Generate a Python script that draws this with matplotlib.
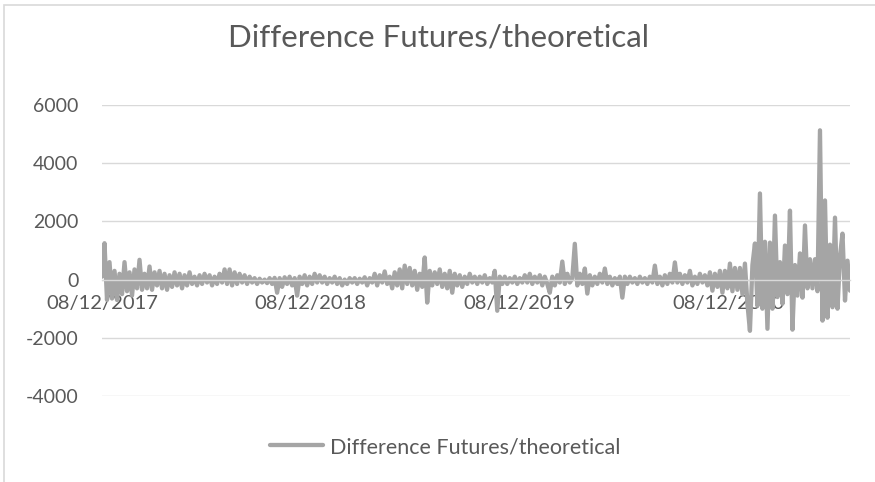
import matplotlib
matplotlib.use("Agg")
import matplotlib.pyplot as plt
import matplotlib.dates as mdates
from matplotlib.patches import Rectangle
import pandas as pd

# ---- data ----
title = "Difference Futures/theoretical"
series_name = "Difference Futures/theoretical"
start_date = "2017-12-08"
end_date = "2021-07-09"
tick_dates = ["2017-12-08", "2018-12-08", "2019-12-08", "2020-12-08"]
y_ticks = [-4000, -2000, 0, 2000, 4000, 6000]

values = [
    100, 1250, -700, 600, -650, 300, -700, 200, -500, 600,
    -400, 250, -550, 350, -300, 680, -350, 200, -300, 450,
    -350, 250, -200, 300, -300, 200, -350, 150, -250, 250,
    -200, 200, -300, 150, -200, 250, -150, 100, -200, 150,
    -150, 200, -100, 150, -200, 100, -150, 200, -100, 350,
    -150, 350, -200, 250, -150, 200, -100, 150, -150, 100,
    -100, 50, -150, 30, -100, 0, -120, 50, -150, 60,
    -450, 50, -250, 80, -150, 100, -200, 50, -550, 100,
    -150, 150, -200, 100, -150, 200, -100, 150, -100, 100,
    -150, 50, -100, 100, -150, 50, -200, 0, -150, 50,
    -100, 50, -150, 30, -100, 80, -200, 50, -100, 200,
    -200, 150, -100, 280, -150, 100, -300, 250, -200, 350,
    -300, 480, -150, 400, -200, 300, -350, 200, -250, 760,
    -790, 300, -200, 250, -150, 350, -250, 200, -300, 300,
    -450, 200, -200, 150, -250, 100, -150, 200, -100, 100,
    -150, 100, -100, 150, -150, 50, -100, 300, -1070, 100,
    -150, 100, -150, 50, -100, 100, -150, 50, -100, 150,
    -100, 200, -150, 100, -100, 150, -200, 100, -150, -450,
    100, -200, 150, -100, 620, -150, 200, -100, 50, 1230,
    -200, 200, -150, 380, -480, 150, -200, 100, -150, 200,
    -100, 380, -150, 100, -200, 50, -150, 100, -620, 100,
    -150, 100, -100, 50, -150, 100, -100, 50, -150, 100,
    -100, 480, -150, 100, -200, 150, -150, 200, -100, 590,
    -100, 200, -150, 150, -100, 300, -200, 100, -150, 200,
    -100, 150, -200, 250, -380, 200, -250, 300, -450, 300,
    -300, 550, -400, 400, -350, 400, -500, 550, -830, -1760,
    500, 1240, -900, 2960, -1000, 1300, -1690, 1270, -1000, 2200,
    -600, 600, -830, 1170, -500, 2370, -1720, 500, -550, 900,
    -620, 1860, -300, 700, -300, 700, -400, 5130, -1410, 2720,
    -1310, 1200, -950, 2130, -1000, 800, 1580, -720, 650, -380,
]

dates = pd.date_range(start_date, end_date, periods=len(values))

# ---- figure ----
W, H = 875, 482
fig = plt.figure(figsize=(W / 100, H / 100), dpi=100)
font = ["Lato", "DejaVu Sans"]
txt = "#595959"
grid = "#d9d9d9"
line_c = "#a5a5a5"

# chart border
fig.patches.append(Rectangle((4 / W, -0.1), 1.2, (H - 5) / H + 0.1,
                             transform=fig.transFigure, fill=False,
                             edgecolor=grid, linewidth=1.2))

left, right, top, bottom = 102, 850, 105, 396
ax = fig.add_axes([left / W, (H - bottom) / H, (right - left) / W, (bottom - top) / H])

ax.plot(dates, values, color=line_c, linewidth=3.1, solid_joinstyle="round",
        solid_capstyle="round", label=series_name, zorder=2)

ax.set_ylim(-4000, 6000)
ax.set_xlim(dates[0], dates[-1])
ax.set_yticks(y_ticks)
ax.set_yticklabels([str(v) for v in y_ticks])
ax.yaxis.grid(True, color=grid, linewidth=1.0)
ax.tick_params(axis="y", length=0, pad=17, labelsize=14, labelcolor=txt,
               labelfontfamily=font)

ax.set_xticks(pd.to_datetime(tick_dates))
ax.xaxis.set_major_formatter(mdates.DateFormatter("%d/%m/%Y"))
ax.tick_params(axis="x", length=0, pad=11, labelsize=14.5, labelcolor=txt,
               labelfontfamily=font)

for s in ["top", "right", "left"]:
    ax.spines[s].set_visible(False)
ax.spines["bottom"].set_position(("data", 0))
ax.spines["bottom"].set_color(grid)
ax.spines["bottom"].set_linewidth(1.0)

fig.text(438 / W, 1 - 38 / H, title, ha="center", va="center",
         fontfamily=font, fontsize=22.5, color=txt)

leg = fig.legend(loc="center", bbox_to_anchor=(445 / W, 1 - 447 / H), frameon=False,
                 prop={"family": font, "size": 15.5}, handlelength=2.5, handletextpad=0.3)
for t in leg.get_texts():
    t.set_color(txt)
for h in leg.get_lines():
    h.set_linewidth(3.1)

fig.savefig("out.png", dpi=100)
